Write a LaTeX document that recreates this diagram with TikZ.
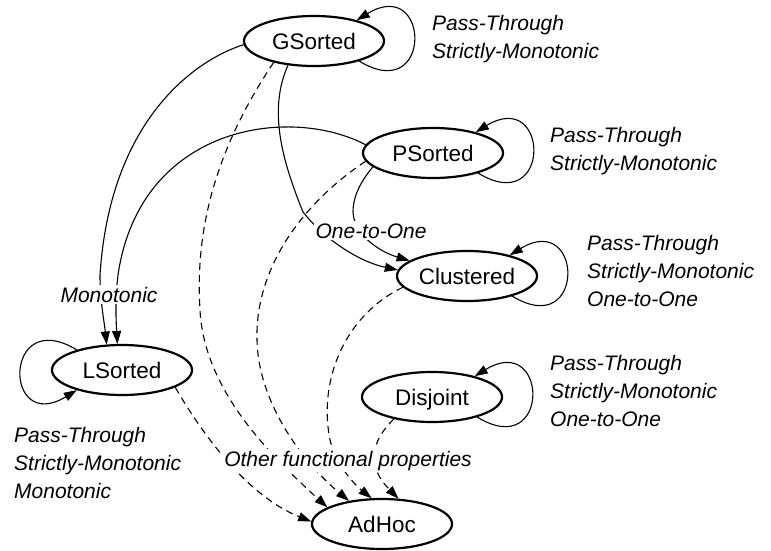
\documentclass[tikz,border=0pt]{standalone}
\usepackage{fontspec}
\setmainfont{Liberation Sans}
\usetikzlibrary{shapes.geometric,arrows.meta}
\begin{document}
\begin{tikzpicture}[x=1pt,y=-1pt,
  state/.style={ellipse,draw,line width=2.2pt,minimum width=140pt,minimum height=50pt,inner sep=0pt,
    font=\fontsize{22.5}{27}\selectfont,text height=16pt,text depth=0pt},
  prop/.style={font=\itshape\fontsize{21}{28}\selectfont,align=left,anchor=north west,inner sep=0pt},
  elabel/.style={font=\itshape\fontsize{21}{28}\selectfont,fill=white,inner sep=2pt,anchor=base},
  fn/.style={line width=1.1pt,-{Triangle[length=13pt,width=9pt]}},
  oth/.style={fn,dash pattern=on 7pt off 5pt},
]
\useasboundingbox (0,0) rectangle (771,551);

% states
\node[state] (g) at (314,41) {GSorted};
\node[state] (p) at (433,153) {PSorted};
\node[state] (c) at (467,276) {Clustered};
\node[state] (d) at (432,397) {Disjoint};
\node[state] (l) at (122,370) {LSorted};
\node[state] (a) at (382,524) {AdHoc};

% self loops
\draw[fn] (g.-24) .. controls +(74,45) and +(74,-45) .. (g.26);
\draw[fn] (p.-24) .. controls +(74,45) and +(74,-45) .. (p.26);
\draw[fn] (c.-24) .. controls +(74,45) and +(74,-45) .. (c.26);
\draw[fn] (d.-24) .. controls +(74,45) and +(74,-45) .. (d.26);
\draw[fn] (l.156) .. controls +(-74,-45) and +(-74,45) .. (l.204);

% monotonic edges
\draw[fn] (g.183) .. controls (195,60) and (110,120) .. (100,275) .. controls (100,300) and (104,320) .. (l.121);
\draw[fn] (p.173) .. controls (290,105) and (140,125) .. (118,275) .. controls (115,300) and (116,320) .. (l.100);

% one-to-one edges
\draw[fn] (g.223) .. controls (268,110) and (282,160) .. (303,212) .. controls (325,240) and (360,262) .. (c.175);
\draw[fn] (p.193) .. controls (362,180) and (353,195) .. (353,212) .. controls (354,235) and (380,252) .. (c.165);

% other functional properties
\draw[oth] (g.208) .. controls (215,150) and (195,230) .. (200,310) .. controls (204,390) and (270,455) .. (a.163);
\draw[oth] (p.187) .. controls (300,205) and (255,270) .. (257,340) .. controls (258,400) and (300,460) .. (a.145);
\draw[oth] (c.190) .. controls (345,315) and (318,380) .. (330,440) .. controls (336,465) and (355,485) .. (a.112);
\draw[oth] (d.210) .. controls (362,450) and (375,475) .. (a.57);
\draw[oth] (l.-18) .. controls (200,430) and (245,495) .. (a.178);

% edge labels
\node[elabel] (mono) at (109,302) {Monotonic};
\node[elabel] (one) at (371,238) {One-to-One};
\node[elabel] (other) at (348,466) {Other functional properties};

% property lists
\node[prop] (lg) at (432,15) {Pass-Through\\Strictly-Monotonic};
\node[prop] (lp) at (550,127) {Pass-Through\\Strictly-Monotonic};
\node[prop] (lc) at (587,235) {Pass-Through\\Strictly-Monotonic\\One-to-One};
\node[prop] (ld) at (550,355) {Pass-Through\\Strictly-Monotonic\\One-to-One};
\node[prop] (ll) at (14,427) {Pass-Through\\Strictly-Monotonic\\Monotonic};
\end{tikzpicture}
\end{document}
